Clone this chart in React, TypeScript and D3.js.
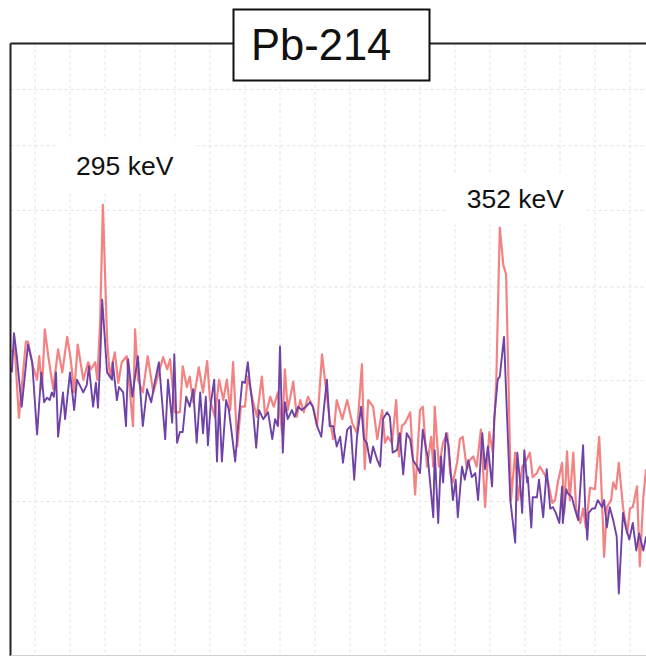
import React from "react";
import * as d3 from "d3";

// Energy grid (keV) and count grid (log scale) – no tick labels are shown
const energyGrid = [285, 290, 295, 300, 305, 310, 315, 320, 325, 330, 335, 340, 345, 350, 355, 360, 365, 370];
const countGrid = [300, 400, 500, 600, 700, 800];

const title = "Pb-214";

const peakLabels = [
  { text: "295 keV", energy: 298.1, counts: 667 },
  { text: "352 keV", energy: 353.9, counts: 617 },
];

// Spectrum A (salmon) – [energy keV, counts]
const spectrumA: [number, number][] = [
  [281.7, 428], [282.1, 433], [282.7, 366], [283.7, 439], [284.0, 439], [284.7, 414], [285.3, 401], [285.6, 424],
  [286.0, 392], [286.4, 452], [286.9, 424], [287.6, 392], [288.3, 431], [288.9, 408], [289.6, 444], [290.1, 421],
  [290.6, 389], [291.1, 436], [291.9, 401], [292.6, 418], [293.0, 411], [293.6, 418], [293.9, 401], [294.3, 459],
  [294.7, 608], [295.3, 441], [295.7, 404], [296.4, 428], [296.9, 398], [297.4, 418], [298.1, 424], [299.0, 359],
  [299.3, 452], [299.7, 401], [300.4, 389], [301.1, 424], [301.9, 389], [302.4, 401], [303.3, 423], [303.9, 411],
  [304.3, 421], [305.0, 371], [305.7, 371], [306.1, 414], [306.7, 394], [307.1, 404], [307.6, 380], [308.4, 413],
  [309.0, 389], [309.6, 419], [310.0, 382], [310.7, 367], [311.3, 401], [311.9, 382], [312.4, 401], [312.9, 373],
  [313.3, 418], [313.9, 342], [314.4, 376], [315.0, 376], [315.4, 404], [316.1, 382], [316.7, 367], [317.4, 404],
  [317.9, 367], [318.6, 385], [319.1, 376], [319.7, 389], [320.3, 353], [320.7, 411], [321.1, 373], [321.9, 399],
  [322.4, 367], [322.9, 382], [323.4, 371], [324.0, 385], [324.7, 376], [325.3, 359], [326.0, 426], [326.7, 385],
  [327.1, 365], [327.6, 348], [328.1, 382], [328.9, 365], [329.6, 382], [330.3, 362], [331.0, 353], [331.7, 416],
  [332.1, 324], [332.6, 382], [333.3, 376], [333.9, 348], [334.6, 373], [335.0, 345], [335.4, 350], [336.0, 345],
  [336.6, 382], [337.0, 334], [337.4, 359], [337.9, 362], [338.6, 371], [339.3, 305], [340.0, 373], [340.4, 376],
  [341.0, 326], [341.6, 350], [341.9, 326], [342.1, 376], [342.7, 326], [343.3, 345], [343.9, 353], [344.3, 321],
  [344.7, 314], [345.3, 329], [345.7, 348], [346.1, 350], [346.7, 324], [347.1, 331], [347.6, 334], [348.1, 326],
  [348.7, 356], [349.3, 296], [349.9, 354], [350.4, 337], [350.9, 401], [351.4, 576], [351.9, 527], [352.3, 515],
  [352.7, 382], [353.0, 301], [353.6, 337], [354.0, 301], [354.6, 326], [355.1, 330], [355.7, 337], [356.1, 318],
  [356.7, 321], [357.1, 326], [357.7, 321], [358.3, 314], [358.9, 299], [359.3, 301], [359.7, 314], [360.3, 329],
  [360.6, 292], [361.0, 338], [361.4, 301], [361.9, 337], [362.3, 295], [362.9, 285], [363.3, 295], [363.7, 282],
  [364.3, 310], [365.0, 309], [365.6, 350], [366.0, 301], [366.3, 263], [366.7, 296], [367.3, 301], [367.6, 314],
  [368.0, 309], [368.4, 329], [369.0, 296], [369.6, 278], [370.0, 295], [370.4, 296], [371.0, 311], [371.4, 257],
  [371.9, 303], [372.3, 324],
];

// Spectrum B (purple) – [energy keV, counts]
const spectrumB: [number, number][] = [
  [281.7, 408], [282.0, 448], [282.4, 424], [283.1, 376], [284.0, 436], [284.6, 418], [285.3, 352], [285.9, 408],
  [286.3, 380], [286.7, 384], [287.1, 382], [287.4, 389], [287.7, 385], [288.0, 408], [288.3, 350], [289.0, 389],
  [289.3, 365], [290.0, 408], [290.6, 373], [291.0, 401], [291.9, 389], [292.4, 396], [292.7, 414], [293.3, 376],
  [293.7, 398], [294.0, 375], [294.3, 418], [294.6, 485], [295.3, 408], [296.0, 401], [296.1, 418], [296.7, 382],
  [297.0, 394], [297.6, 389], [298.0, 359], [298.3, 421], [298.9, 385], [299.7, 424], [300.4, 359], [301.0, 392],
  [301.6, 380], [302.1, 398], [302.7, 418], [303.6, 348], [304.0, 401], [304.6, 362], [304.9, 426], [305.3, 345],
  [305.7, 354], [306.1, 354], [306.6, 385], [307.1, 376], [307.6, 392], [308.1, 345], [308.6, 389], [309.0, 353],
  [309.4, 385], [309.7, 343], [310.1, 378], [310.6, 401], [311.0, 330], [311.3, 382], [311.7, 330], [312.3, 382],
  [312.7, 373], [313.6, 330], [314.0, 359], [314.6, 399], [315.0, 398], [315.4, 418], [315.7, 398], [316.1, 376],
  [316.6, 341], [317.0, 373], [317.6, 365], [318.3, 371], [318.9, 348], [319.3, 365], [319.7, 359], [320.0, 434],
  [320.4, 337], [320.7, 380], [321.1, 365], [321.7, 373], [322.1, 367], [322.6, 376], [323.1, 373], [323.7, 376],
  [324.3, 380], [324.7, 376], [325.3, 359], [325.9, 350], [326.3, 376], [326.7, 401], [327.1, 359], [327.6, 359],
  [328.1, 342], [328.6, 350], [329.0, 329], [329.6, 356], [330.1, 359], [330.6, 316], [331.0, 350], [331.6, 376],
  [332.0, 348], [332.4, 345], [332.9, 329], [333.3, 342], [333.9, 331], [334.3, 326], [334.7, 365], [335.3, 371],
  [335.7, 367], [336.1, 337], [336.7, 339], [337.1, 353], [337.6, 320], [338.1, 353], [338.6, 348], [339.0, 331],
  [339.6, 326], [340.0, 321], [340.4, 356], [340.9, 339], [341.1, 334], [341.9, 289], [342.1, 339], [342.6, 285],
  [343.0, 334], [343.3, 314], [343.7, 353], [344.1, 342], [344.7, 301], [345.1, 316], [345.4, 289], [346.0, 326],
  [346.4, 316], [346.9, 331], [347.4, 318], [347.9, 321], [348.3, 301], [348.9, 353], [349.3, 324], [349.7, 342],
  [350.3, 311], [350.6, 365], [351.1, 401], [351.4, 404], [352.0, 444], [352.4, 373], [352.9, 301], [353.6, 272],
  [353.9, 337], [354.3, 314], [354.6, 292], [354.9, 339], [355.3, 314], [355.4, 318], [355.9, 282], [356.1, 303],
  [356.7, 303], [357.0, 316], [357.6, 289], [358.1, 324], [358.6, 295], [359.0, 296], [359.4, 292], [359.9, 285],
  [360.3, 311], [360.4, 285], [360.9, 309], [361.1, 306], [361.7, 303], [362.1, 295], [362.6, 287], [363.3, 343],
  [363.6, 296], [363.9, 274], [364.1, 292], [364.6, 295], [365.0, 295], [365.4, 301], [366.0, 296], [366.3, 301],
  [366.7, 282], [367.1, 296], [367.6, 287], [368.1, 276], [368.4, 241], [369.0, 292], [369.4, 282], [369.9, 274],
  [370.4, 285], [370.9, 267], [371.3, 278], [371.9, 267], [372.3, 276],
];

const W = 646;
const H = 656;
const plotLeft = 10.5;
const plotTop = 43.5;

export default function App() {
  const x = d3.scaleLinear().domain([280, 380]).range([0, 700]);
  const y = d3.scaleLog().domain([300, 800]).range([501.5, 89.6]);

  const line = d3
    .line<[number, number]>()
    .x((d) => x(d[0]))
    .y((d) => y(d[1]));

  const font = "'Liberation Sans', Arial, Helvetica, sans-serif";
  const boxW = 139;
  const boxH = 52;

  return (
    <svg
      width={W}
      height={H}
      style={{ position: "absolute", left: 0, top: 0, background: "#fff" }}
      fontFamily={font}
    >
      <defs>
        <clipPath id="plotClip">
          <rect x={plotLeft} y={plotTop} width={W - plotLeft} height={H - plotTop} />
        </clipPath>
      </defs>
      <rect x={0} y={0} width={W} height={H} fill="#fff" />

      {/* grid */}
      <g clipPath="url(#plotClip)" stroke="#e2e2e2" strokeWidth={1} strokeDasharray="3,3">
        {energyGrid.map((e) => (
          <line key={"v" + e} x1={x(e)} x2={x(e)} y1={plotTop} y2={H} />
        ))}
        {countGrid.map((c) => (
          <line key={"h" + c} x1={plotLeft} x2={W} y1={y(c)} y2={y(c)} />
        ))}
      </g>

      {/* label backgrounds */}
      {peakLabels.map((p) => (
        <rect
          key={"bg" + p.text}
          x={x(p.energy) - boxW / 2}
          y={y(p.counts) - boxH / 2}
          width={boxW}
          height={boxH}
          fill="#fff"
        />
      ))}

      {/* spectra */}
      <g clipPath="url(#plotClip)" fill="none" strokeLinejoin="round">
        <path d={line(spectrumA) || ""} stroke="#f27878" strokeWidth={2.2} strokeOpacity={0.92} />
        <path d={line(spectrumB) || ""} stroke="#6f42a6" strokeWidth={1.9} />
      </g>

      {/* peak labels */}
      {peakLabels.map((p) => (
        <text
          key={p.text}
          x={x(p.energy) - 2}
          y={y(p.counts) + 9.5}
          textAnchor="middle"
          fontSize={26.5}
          fill="#111"
        >
          {p.text}
        </text>
      ))}

      {/* frame */}
      <line x1={plotLeft} x2={W} y1={plotTop} y2={plotTop} stroke="#222" strokeWidth={2} />
      <line x1={plotLeft} x2={plotLeft} y1={plotTop} y2={H} stroke="#222" strokeWidth={2} />
      <line x1={plotLeft} x2={W} y1={H - 0.5} y2={H - 0.5} stroke="#cfcfcf" strokeWidth={1} />

      {/* title box */}
      <rect x={233.5} y={9.5} width={196} height={71} fill="#fff" stroke="#111" strokeWidth={2} />
      <text x={251} y={60} fontSize={43.5} fill="#111">
        {title}
      </text>
    </svg>
  );
}
